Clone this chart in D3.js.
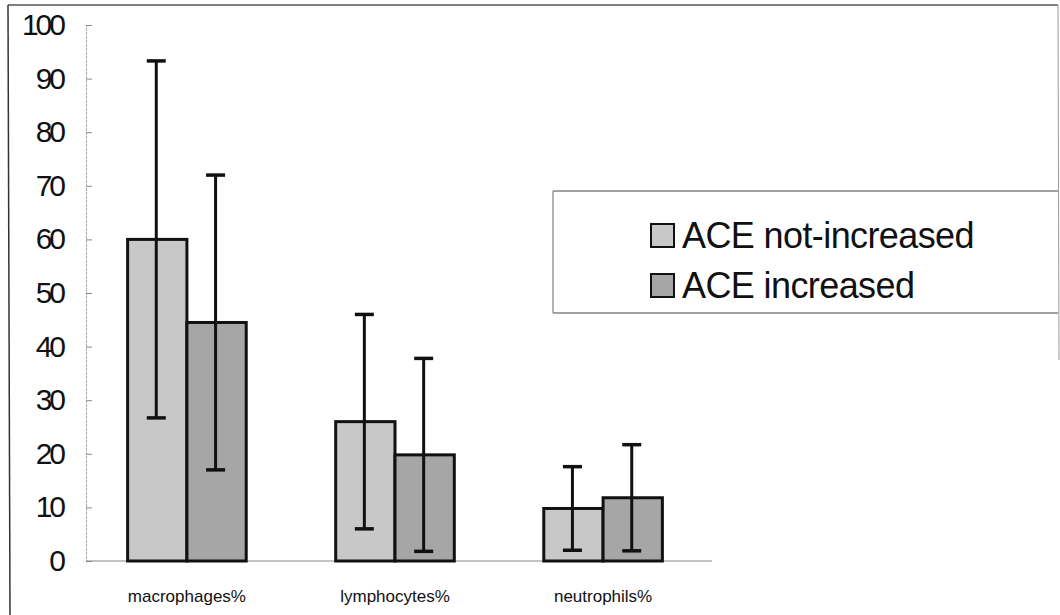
<!DOCTYPE html>
<html>
<head>
<meta charset="utf-8">
<script src="https://cdn.jsdelivr.net/npm/d3@7"></script>
<style>
  html, body { margin: 0; padding: 0; background: #fff; }
  svg { display: block; }
  text { font-family: "Liberation Sans", Arial, sans-serif; fill: #111; }
</style>
</head>
<body>
<svg id="chart" width="1060" height="615"></svg>
<script>
// ---- data ----
const categories = ["macrophages%", "lymphocytes%", "neutrophils%"];
const seriesNames = ["ACE not-increased", "ACE increased"];
const notIncreasedMean = [60, 26, 9.8];
const notIncreasedSD = [33.3, 20, 7.8];
const increasedMean = [44.5, 19.8, 11.8];
const increasedSD = [27.5, 18, 9.9];
const yTicks = [0, 10, 20, 30, 40, 50, 60, 70, 80, 90, 100];

const seriesColors = ["#c8c8c8", "#a6a6a6"];

const rows = categories.map((c, i) => ({
  cat: c,
  values: [
    { s: seriesNames[0], mean: notIncreasedMean[i], sd: notIncreasedSD[i], k: 0 },
    { s: seriesNames[1], mean: increasedMean[i], sd: increasedSD[i], k: 1 }
  ]
}));

const svg = d3.select("#chart");

// outer frame (scanned figure border)
svg.append("line").attr("x1", 8).attr("y1", 5).attr("x2", 1058).attr("y2", 5)
  .attr("stroke", "#555").attr("stroke-width", 1.5);
svg.append("line").attr("x1", 8).attr("y1", 5).attr("x2", 10).attr("y2", 615)
  .attr("stroke", "#333").attr("stroke-width", 1.5);
svg.append("line").attr("x1", 1058).attr("y1", 5).attr("x2", 1059).attr("y2", 360)
  .attr("stroke", "#999").attr("stroke-width", 1);

// scales
const x0 = d3.scaleBand().domain(categories).range([86, 704]).paddingInner(0.43).paddingOuter(0.2);
const x1 = d3.scaleBand().domain(seriesNames).range([0, x0.bandwidth()]).padding(0);
const y = d3.scaleLinear().domain([0, 100]).range([561, 25]);

// y axis
const yAxis = d3.axisRight(y).tickValues(yTicks).tickSize(6).tickFormat("");
const yg = svg.append("g").attr("transform", "translate(86,0)").call(yAxis);
yg.select(".domain").attr("stroke", "#aaa").attr("stroke-width", 1).attr("stroke-dasharray", "3,1");
yg.selectAll(".tick line").attr("stroke", "#888");

// y tick labels
svg.append("g").selectAll("text").data(yTicks).join("text")
  .attr("x", 63).attr("y", d => y(d) + 2)
  .attr("text-anchor", "end").attr("dominant-baseline", "middle")
  .style("font-size", "30px").style("letter-spacing", "-3px")
  .text(d => d);

// x axis baseline
const xAxis = d3.axisBottom(x0).tickSize(0).tickFormat("");
const xg = svg.append("g").attr("transform", `translate(0,${y(0)})`).call(xAxis);
xg.select(".domain").attr("stroke", "#888").attr("stroke-width", 1.2).attr("d", "M86,0H712");

// bars
const groups = svg.append("g").selectAll("g").data(rows).join("g")
  .attr("transform", d => `translate(${x0(d.cat)},0)`);

groups.selectAll("rect").data(d => d.values).join("rect")
  .attr("x", d => x1(d.s))
  .attr("y", d => y(d.mean))
  .attr("width", x1.bandwidth())
  .attr("height", d => y(0) - y(d.mean))
  .attr("fill", d => seriesColors[d.k])
  .attr("stroke", "#111").attr("stroke-width", 3);

// error bars
const capW = 19;
const eb = groups.selectAll("g.err").data(d => d.values).join("g").attr("class", "err");
eb.append("line")
  .attr("x1", d => x1(d.s) + x1.bandwidth() / 2 - 1)
  .attr("x2", d => x1(d.s) + x1.bandwidth() / 2 - 1)
  .attr("y1", d => y(d.mean + d.sd))
  .attr("y2", d => y(d.mean - d.sd))
  .attr("stroke", "#111").attr("stroke-width", 3);
eb.append("line")
  .attr("x1", d => x1(d.s) + x1.bandwidth() / 2 - 1 - capW / 2)
  .attr("x2", d => x1(d.s) + x1.bandwidth() / 2 - 1 + capW / 2)
  .attr("y1", d => y(d.mean + d.sd))
  .attr("y2", d => y(d.mean + d.sd))
  .attr("stroke", "#111").attr("stroke-width", 3.5);
eb.append("line")
  .attr("x1", d => x1(d.s) + x1.bandwidth() / 2 - 1 - capW / 2)
  .attr("x2", d => x1(d.s) + x1.bandwidth() / 2 - 1 + capW / 2)
  .attr("y1", d => y(d.mean - d.sd))
  .attr("y2", d => y(d.mean - d.sd))
  .attr("stroke", "#111").attr("stroke-width", 3.5);

// category labels
svg.append("g").selectAll("text").data(categories).join("text")
  .attr("x", d => x0(d) + x0.bandwidth() / 2)
  .attr("y", 602)
  .attr("text-anchor", "middle")
  .style("font-size", "17px")
  .text(d => d);

// legend
const lg = svg.append("g");
lg.append("line").attr("x1", 553).attr("y1", 191).attr("x2", 1058).attr("y2", 191)
  .attr("stroke", "#444").attr("stroke-width", 1.2);
lg.append("line").attr("x1", 553).attr("y1", 313).attr("x2", 1058).attr("y2", 313)
  .attr("stroke", "#444").attr("stroke-width", 1.2);
lg.append("line").attr("x1", 553).attr("y1", 191).attr("x2", 553).attr("y2", 313)
  .attr("stroke", "#666").attr("stroke-width", 1);

const items = lg.selectAll("g.item").data(seriesNames).join("g").attr("class", "item")
  .attr("transform", (d, i) => `translate(651,${224 + i * 50})`);
items.append("rect").attr("width", 23).attr("height", 23)
  .attr("fill", (d, i) => seriesColors[i]).attr("stroke", "#111").attr("stroke-width", 2);
items.append("text").attr("x", 31).attr("y", 24)
  .style("font-size", "36px").style("letter-spacing", "-0.6px")
  .text(d => d);
</script>
</body>
</html>
